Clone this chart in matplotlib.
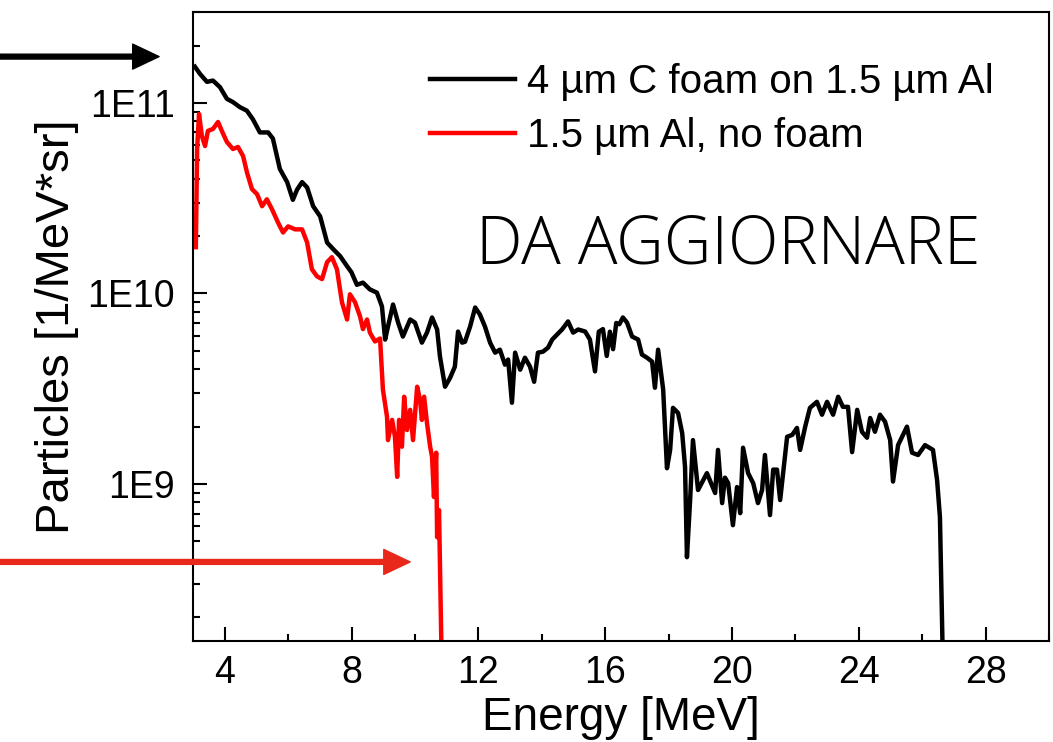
import math
import matplotlib
matplotlib.use("Agg")
import matplotlib.pyplot as plt
from matplotlib.ticker import MultipleLocator, LogLocator, FuncFormatter, NullFormatter

# ---------------- data ----------------
black_energy = [
    3.06, 3.22, 3.44, 3.63, 3.85, 4.07, 4.26, 4.48, 4.70, 4.89,
    5.11, 5.37, 5.52, 5.74, 5.97, 6.15, 6.28, 6.44, 6.60, 6.79,
    7.01, 7.23, 7.42, 7.64, 7.86, 8.00, 8.17, 8.36, 8.58, 8.80,
    8.96, 9.06, 9.15, 9.31, 9.47, 9.62, 9.85, 10.00, 10.22, 10.38,
    10.54, 10.70, 10.79, 10.95, 11.11, 11.26, 11.36, 11.49, 11.58, 11.74,
    11.90, 12.05, 12.21, 12.37, 12.53, 12.68, 12.84, 12.94, 13.06, 13.16,
    13.32, 13.47, 13.63, 13.76, 13.88, 14.04, 14.20, 14.33, 14.48, 14.64,
    14.83, 14.99, 15.15, 15.37, 15.52, 15.68, 15.80, 15.93, 16.05, 16.15,
    16.25, 16.35, 16.45, 16.56, 16.69, 16.85, 17.04, 17.16, 17.32, 17.48,
    17.57, 17.67, 17.83, 17.95, 18.05, 18.14, 18.30, 18.43, 18.52, 18.58,
    18.68, 18.77, 18.93, 19.21, 19.47, 19.56, 19.69, 19.78, 19.88, 20.03,
    20.16, 20.26, 20.35, 20.51, 20.67, 20.82, 20.95, 21.04, 21.20, 21.30,
    21.42, 21.52, 21.74, 21.90, 22.05, 22.15, 22.31, 22.46, 22.68, 22.84,
    23.00, 23.19, 23.35, 23.50, 23.66, 23.79, 23.95, 24.10, 24.26, 24.36,
    24.51, 24.67, 24.83, 24.99, 25.08, 25.24, 25.52, 25.68, 25.87, 26.09,
    26.34, 26.47, 26.56, 26.66,
]
black_particles = [
    1.55e11, 1.42e11, 1.29e11, 1.31e11, 1.21e11, 1.05e11, 1.01e11, 9.5e10, 9.1e10, 8.2e10,
    7.0e10, 7.0e10, 6.5e10, 4.5e10, 3.84e10, 3.1e10, 3.5e10, 3.84e10, 3.6e10, 2.87e10,
    2.54e10, 1.85e10, 1.71e10, 1.57e10, 1.39e10, 1.29e10, 1.11e10, 1.14e10, 1.05e10, 1.01e10,
    8.55e9, 5.73e9, 6.7e9, 8.75e9, 7.03e9, 5.94e9, 7.3e9, 7.03e9, 5.52e9, 6.23e9,
    7.48e9, 6.47e9, 4.66e9, 3.24e9, 3.61e9, 4.13e9, 6.31e9, 5.52e9, 5.58e9, 6.7e9,
    8.44e9, 7.75e9, 6.7e9, 5.52e9, 4.89e9, 5.07e9, 4.23e9, 4.5e9, 2.67e9, 4.89e9,
    3.98e9, 4.6e9, 4.13e9, 3.44e9, 4.89e9, 4.95e9, 5.2e9, 5.73e9, 6.08e9, 6.47e9,
    7.13e9, 6.23e9, 6.47e9, 6.31e9, 5.73e9, 3.9e9, 6.3e9, 6.5e9, 4.7e9, 6.3e9,
    5.1e9, 7.0e9, 6.9e9, 7.48e9, 7.03e9, 5.94e9, 5.73e9, 4.78e9, 4.6e9, 4.39e9,
    3.2e9, 5.07e9, 3.13e9, 1.21e9, 1.51e9, 2.51e9, 2.36e9, 1.85e9, 1.23e9, 4.13e8,
    8.24e8, 1.7e9, 9.3e8, 1.14e9, 8.97e8, 1.51e9, 7.94e8, 1.08e9, 1.01e9, 6.08e8,
    9.64e8, 7.03e8, 1.55e9, 1.14e9, 1.01e9, 7.94e8, 9.3e8, 1.42e9, 6.87e8, 1.19e9,
    1.19e9, 8.24e8, 1.77e9, 1.81e9, 1.97e9, 1.51e9, 2.0e9, 2.51e9, 2.7e9, 2.31e9,
    2.7e9, 2.31e9, 2.87e9, 2.54e9, 2.54e9, 1.47e9, 2.45e9, 1.88e9, 1.75e9, 2.22e9,
    1.88e9, 2.31e9, 2.12e9, 1.7e9, 1.03e9, 1.6e9, 2.0e9, 1.46e9, 1.42e9, 1.6e9,
    1.51e9, 1.05e9, 6.7e8, 1e8,
]

red_energy = [
    3.09, 3.13, 3.19, 3.28, 3.38, 3.47, 3.63, 3.79, 3.91, 4.07,
    4.26, 4.42, 4.58, 4.70, 4.86, 5.02, 5.18, 5.33, 5.49, 5.68,
    5.84, 6.00, 6.22, 6.44, 6.60, 6.75, 6.91, 7.07, 7.23, 7.38,
    7.54, 7.70, 7.86, 7.95, 8.11, 8.27, 8.36, 8.49, 8.58, 8.74,
    8.90, 8.99, 9.12, 9.15, 9.28, 9.37, 9.44, 9.50, 9.59, 9.66,
    9.75, 9.85, 9.94, 10.07, 10.16, 10.22, 10.29, 10.38, 10.48, 10.54,
    10.60, 10.67, 10.70, 10.76, 10.85,
]
red_particles = [
    1.75e10, 5.73e10, 8.75e10, 6.7e10, 5.94e10, 7.13e10, 7.3e10, 7.94e10, 7.13e10, 6.23e10,
    5.73e10, 5.87e10, 5.26e10, 4.33e10, 3.53e10, 3.32e10, 2.87e10, 3.12e10, 2.77e10, 2.36e10,
    2.09e10, 2.25e10, 2.17e10, 2.17e10, 1.85e10, 1.34e10, 1.23e10, 1.19e10, 1.46e10, 1.55e10,
    1.34e10, 8.97e9, 7.3e9, 9.9e9, 9.0e9, 7.57e9, 6.5e9, 7.3e9, 6.23e9, 5.6e9,
    5.8e9, 3.13e9, 2.25e9, 1.7e9, 2.17e9, 1.77e9, 1.09e9, 2.17e9, 1.57e9, 2.87e9,
    1.92e9, 2.45e9, 1.7e9, 3.24e9, 2.77e9, 2.17e9, 2.87e9, 2.09e9, 1.57e9, 1.39e9,
    8.55e8, 1.46e9, 5.26e8, 7.3e8, 1e8,
]

label_black = "4 \u00b5m C foam on 1.5 \u00b5m Al"
label_red = "1.5 \u00b5m Al, no foam"

# arrow tips (energy, particles)
black_arrow_tip = (1.93, 1.75e11)
red_arrow_tip = (9.85, 3.9e8)

# ---------------- plot ----------------
plt.rcParams['font.family'] = ['Liberation Sans', 'DejaVu Sans']

fig = plt.figure(figsize=(10.53, 7.42), dpi=100)
ax = fig.add_axes([193 / 1053, 1 - 641 / 742, 856 / 1053, 629 / 742])

ax.plot(black_energy, black_particles, color='black', lw=3.2, label=label_black)
ax.plot(red_energy, red_particles, color='#ff0000', lw=3.2, label=label_red)

ax.set_yscale('log')
ax.set_xlim(3, 30)
ax.set_ylim(1.5e8, 3e11)

ax.xaxis.set_major_locator(MultipleLocator(4))
ax.xaxis.set_minor_locator(MultipleLocator(2))
ax.yaxis.set_major_locator(LogLocator(base=10))
ax.yaxis.set_minor_locator(LogLocator(base=10, subs=range(2, 10)))
ax.yaxis.set_major_formatter(FuncFormatter(lambda v, p: "1E%d" % round(math.log10(v))))
ax.yaxis.set_minor_formatter(NullFormatter())

for s in ax.spines.values():
    s.set_linewidth(1.5)
ax.tick_params(which='both', direction='in', width=1.5, top=False, right=False, labelsize=27)
ax.tick_params(which='major', length=10)
ax.tick_params(which='minor', length=5)
ax.tick_params(axis='x', pad=10)
ax.tick_params(axis='y', pad=13)

ax.set_xlabel("Energy [MeV]", fontsize=33, labelpad=4)
ax.set_ylabel("Particles [1/MeV*sr]", fontsize=34, labelpad=6)

leg = ax.legend(loc='upper left', bbox_to_anchor=(0.277, 0.919), frameon=False,
                fontsize=29, handlelength=2.1, handletextpad=0.3, labelspacing=0.4,
                borderpad=0, borderaxespad=0)

ax.text(0.331, 0.627, "DA AGGIORNARE", transform=ax.transAxes, fontsize=47.5,
        family=['Open Sans', 'Liberation Sans'], fontweight='light', va='center', ha='left')

# arrows coming in from the left edge of the figure
ax.annotate("", xy=black_arrow_tip, xycoords='data',
            xytext=(0, black_arrow_tip[1]), textcoords=('figure fraction', 'data'),
            arrowprops=dict(color='black', width=3.5, headwidth=18, headlength=19, shrink=0),
            annotation_clip=False)
ax.annotate("", xy=red_arrow_tip, xycoords='data',
            xytext=(0, red_arrow_tip[1]), textcoords=('figure fraction', 'data'),
            arrowprops=dict(color='#e8281a', width=3.5, headwidth=18, headlength=19, shrink=0),
            annotation_clip=False)

fig.savefig("out.png", dpi=100)
